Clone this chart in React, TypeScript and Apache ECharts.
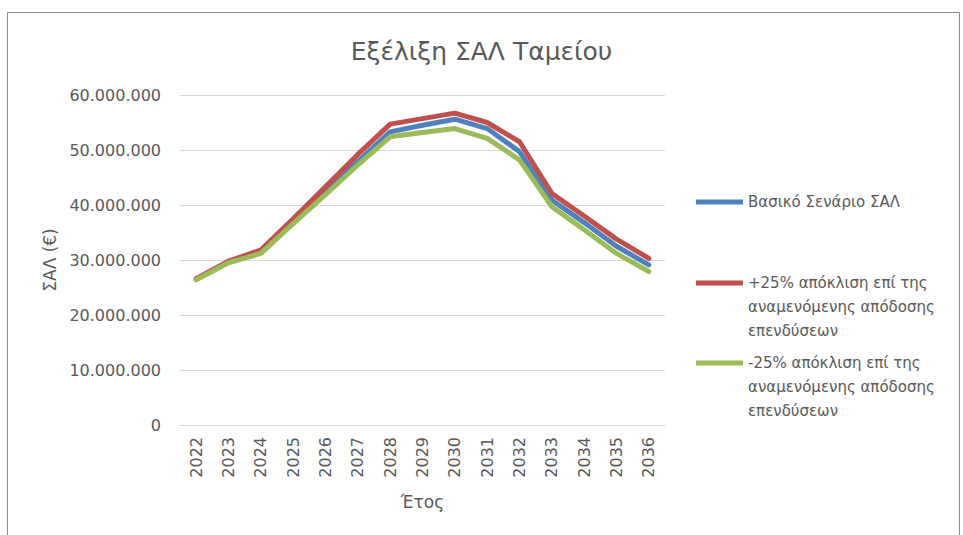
import React, { useEffect, useRef } from "react";
import * as echarts from "echarts";

const years = ["2022", "2023", "2024", "2025", "2026", "2027", "2028", "2029", "2030", "2031", "2032", "2033", "2034", "2035", "2036"];
const baseValues = [26500000, 29700000, 31600000, 37000000, 42400000, 47900000, 53300000, 54500000, 55600000, 53900000, 49700000, 40900000, 36800000, 32500000, 29100000];
const plusValues = [26600000, 29800000, 31800000, 37500000, 43300000, 49200000, 54700000, 55700000, 56700000, 55000000, 51500000, 42100000, 38000000, 33800000, 30300000];
const minusValues = [26400000, 29500000, 31200000, 36600000, 41900000, 47300000, 52400000, 53200000, 53900000, 52100000, 48200000, 39700000, 35500000, 31200000, 27900000];
const seriesNames = [
  "Βασικό Σενάριο ΣΑΛ",
  "+25% απόκλιση επί της αναμενόμενης απόδοσης επενδύσεων",
  "-25% απόκλιση επί της αναμενόμενης απόδοσης επενδύσεων",
];
const legendLines: string[][] = [
  ["Βασικό Σενάριο ΣΑΛ"],
  ["+25% απόκλιση επί της", "αναμενόμενης απόδοσης", "επενδύσεων"],
  ["-25% απόκλιση επί της", "αναμενόμενης απόδοσης", "επενδύσεων"],
];
const colors = ["#4F81BD", "#C0504D", "#9BBB59"];
const titleText = "Εξέλιξη ΣΑΛ Ταμείου";
const yName = "ΣΑΛ (€)";
const xName = "Έτος";

const FONT = "DejaVu Sans";
const TEXT = "#595959";

function fmt(v: number): string {
  return String(v).replace(/\B(?=(\d{3})+(?!\d))/g, ".");
}

export default function App() {
  const ref = useRef<HTMLDivElement>(null);
  useEffect(() => {
    if (!ref.current) return;
    const chart = echarts.init(ref.current, null, { renderer: "svg" });
    const data = [baseValues, plusValues, minusValues];
    const legendCenters = [202, 283, 363];
    const LH = 24;
    const legendLeft = 696;
    const iconW = 47;
    const textX = legendLeft + iconW + 5;
    const extraTexts: any[] = [];
    legendLines.forEach((lines, i) => {
      lines.slice(1).forEach((ln, j) => {
        extraTexts.push({
          type: "text",
          x: textX,
          y: legendCenters[i] + (j + 1) * LH,
          silent: true,
          style: {
            text: ln,
            fill: TEXT,
            font: `15px "${FONT}"`,
            textAlign: "left",
            textVerticalAlign: "middle",
            verticalAlign: "middle",
          },
        });
      });
    });
    chart.setOption({
      animation: false,
      backgroundColor: "#ffffff",
      title: {
        text: titleText,
        left: "center",
        top: 34,
        textStyle: { fontFamily: FONT, fontSize: 25, fontWeight: "normal", color: TEXT },
      },
      graphic: [
        {
          type: "rect",
          shape: { x: 7.5, y: 12.5, width: 952, height: 530 },
          style: { fill: "none", stroke: "#8c8c8c", lineWidth: 1 },
          silent: true,
          z: -1,
        },
        ...extraTexts,
      ],
      legend: seriesNames.map((n, i) => ({
        data: [n],
        left: legendLeft,
        top: legendCenters[i] - LH / 2,
        orient: "vertical",
        padding: 0,
        itemGap: 0,
        icon: "rect",
        itemWidth: iconW,
        itemHeight: 5,
        selectedMode: false,
        formatter: () => legendLines[i][0],
        textStyle: { fontFamily: FONT, fontSize: 15, lineHeight: LH, color: TEXT },
      })),
      grid: { left: 180, right: 298, top: 95, bottom: 110, containLabel: false },
      xAxis: {
        type: "category",
        data: years,
        boundaryGap: true,
        name: xName,
        nameLocation: "middle",
        nameGap: 68,
        nameTextStyle: { fontFamily: FONT, fontSize: 17, color: TEXT },
        axisLine: { show: true, lineStyle: { color: "#d9d9d9", width: 1 } },
        axisTick: { show: false },
        axisLabel: { rotate: 90, margin: 12, fontFamily: FONT, fontSize: 16, color: TEXT, interval: 0 },
        splitLine: { show: false },
      },
      yAxis: {
        type: "value",
        min: 0,
        max: 60000000,
        interval: 10000000,
        name: yName,
        nameLocation: "middle",
        nameGap: 122,
        nameRotate: 90,
        nameTextStyle: { fontFamily: FONT, fontSize: 17, color: TEXT },
        axisLine: { show: false },
        axisTick: { show: false },
        axisLabel: { margin: 19, fontFamily: FONT, fontSize: 16, color: TEXT, formatter: (v: number) => fmt(v) },
        splitLine: { lineStyle: { color: "#d9d9d9", width: 1 } },
      },
      series: seriesNames.map((n, i) => ({
        name: n,
        type: "line",
        data: data[i],
        symbol: "none",
        showSymbol: false,
        itemStyle: { color: colors[i] },
        lineStyle: { color: colors[i], width: 5, join: "round", cap: "round" },
        z: 2 + i,
      })),
    });
    return () => chart.dispose();
  }, []);
  return (
    <div
      ref={ref}
      style={{ position: "fixed", left: 0, top: 0, width: 963, height: 535, background: "#fff" }}
    />
  );
}
